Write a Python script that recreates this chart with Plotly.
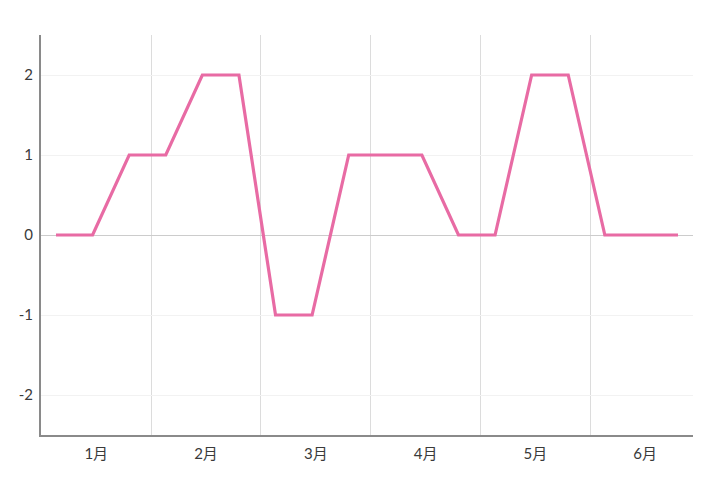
import plotly.graph_objects as go

months = ["1月", "2月", "3月", "4月", "5月", "6月"]
points_per_month = 3
values = [0, 0, 1, 1, 2, 2, -1, -1, 1, 1, 1, 0, 0, 2, 2, 0, 0, 0]
y_ticks = [-2, -1, 0, 1, 2]
y_labels = ["-2", "-1", "0", "1", "2"]

x = list(range(len(values)))
pad = 0.41
band_offset = 0.4
boundaries = [points_per_month * i - band_offset for i in range(1, len(months))]
band_centers = [points_per_month * i - band_offset + points_per_month / 2 for i in range(len(months))]

fig = go.Figure()
fig.add_trace(go.Scatter(
    x=x, y=values, mode="lines",
    line=dict(color="#E86BA4", width=3.2),
    hoverinfo="skip", showlegend=False,
))

font_family = "Lato, Noto Sans CJK JP, sans-serif"
fig.update_layout(
    width=720, height=489,
    margin=dict(l=41, r=27, t=35, b=54),
    paper_bgcolor="white", plot_bgcolor="white",
    font=dict(family=font_family, size=15, color="#3a3a3a"),
    xaxis=dict(
        range=[-pad, len(values) - 1 + pad],
        tickmode="array", tickvals=band_centers, ticktext=months,
        showgrid=False, zeroline=False,
        showline=True, linecolor="#8a8a8a", linewidth=2,
        ticks="", ticklabelstandoff=4, automargin=False,
        minor=dict(tickmode="array", tickvals=boundaries, showgrid=True,
                   gridcolor="#dcdcdc", gridwidth=1),
    ),
    yaxis=dict(
        range=[-2.5, 2.5],
        tickmode="array", tickvals=y_ticks, ticktext=y_labels,
        showgrid=True, gridcolor="#f2f2f2", gridwidth=1,
        zeroline=True, zerolinecolor="#cccccc", zerolinewidth=1,
        showline=True, linecolor="#8a8a8a", linewidth=2,
        ticks="", ticklabelstandoff=3, automargin=False,
    ),
)

fig.write_html("out.html", config={"displayModeBar": False},
               post_script="document.body.style.margin='0';")
